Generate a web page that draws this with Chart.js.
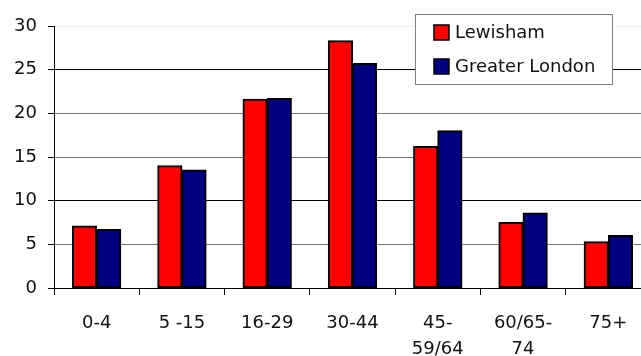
<!DOCTYPE html>
<html>
<head>
<meta charset="utf-8">
<script src="https://cdn.jsdelivr.net/npm/chart.js@4"></script>
<style>
  html, body { margin: 0; padding: 0; background: #fff; overflow: hidden; }
  #wrap { width: 652px; height: 356px; }
</style>
</head>
<body>
<div id="wrap"><canvas id="ageChart" width="652" height="356"></canvas></div>
<script>
// ── Data ──────────────────────────────────────────────────────────────────────
const AGE_BANDS = ["0-4", "5 -15", "16-29", "30-44", ["45-", "59/64"], ["60/65-", "74"], "75+"];
const LEWISHAM = [7.1, 14.0, 21.6, 28.3, 16.2, 7.5, 5.3];
const GREATER_LONDON = [6.7, 13.5, 21.7, 25.7, 18.0, 8.6, 6.0];
const Y_TICKS = [0, 5, 10, 15, 20, 25, 30];

const FONT = { family: "'DejaVu Sans', sans-serif", size: 18 };

// grid lines in the source alternate dark / grey because of scaling
const GRID_COLOURS = { 0: "#000", 5: "#777", 10: "#000", 15: "#777", 20: "#777", 25: "#000", 30: "#eeeeee" };

// Legend box drawn inside the plot, like the spreadsheet original
const boxLegend = {
  id: "boxLegend",
  afterDraw(chart) {
    const ctx = chart.ctx;
    const x = 415, y = 14, w = 197, h = 70;
    ctx.save();
    ctx.fillStyle = "#fff";
    ctx.fillRect(x, y, w, h);
    ctx.strokeStyle = "#808080";
    ctx.lineWidth = 1;
    ctx.strokeRect(x + 0.5, y + 0.5, w, h);
    ctx.font = `${FONT.size}px ${FONT.family}`;
    ctx.textBaseline = "middle";
    chart.data.datasets.forEach((ds, i) => {
      const cy = 32 + i * 34;
      ctx.fillStyle = ds.backgroundColor;
      ctx.fillRect(434, cy - 7, 15, 15);
      ctx.strokeStyle = "#000";
      ctx.lineWidth = 1.5;
      ctx.strokeRect(434, cy - 7, 15, 15);
      ctx.fillStyle = "#111";
      ctx.fillText(ds.label, 455, cy + 1);
    });
    ctx.restore();
  },
};

const barStyle = {
  borderColor: "#000",
  borderWidth: 2,
  borderSkipped: false,
  inflateAmount: 0.5,
  categoryPercentage: 0.567,
  barPercentage: 1.0,
};

new Chart(document.getElementById("ageChart"), {
  type: "bar",
  data: {
    labels: AGE_BANDS,
    datasets: [
      { label: "Lewisham", data: LEWISHAM, backgroundColor: "#ff0000", ...barStyle },
      { label: "Greater London", data: GREATER_LONDON, backgroundColor: "#000080", ...barStyle },
    ],
  },
  options: {
    responsive: false,
    animation: false,
    layout: { padding: { top: 26, right: 1, left: 0, bottom: 0 } },
    plugins: {
      legend: { display: false },
      tooltip: { enabled: false },
    },
    scales: {
      x: {
        offset: true,
        grid: {
          offset: true,
          drawOnChartArea: false,
          color: "#000",
          tickLength: 7,
        },
        border: { color: "#000", width: 1 },
        ticks: {
          color: "#111",
          font: { ...FONT, lineHeight: 1.45 },
          padding: 15,
          maxRotation: 0,
          autoSkip: false,
        },
        afterFit: (s) => { s.height = 68; },
      },
      y: {
        min: 0,
        max: 30,
        afterBuildTicks: (s) => { s.ticks = Y_TICKS.map((v) => ({ value: v })); },
        grid: {
          color: (c) => GRID_COLOURS[c.tick.value] || "#777",
          tickColor: "#000",
          tickLength: 6,
        },
        border: { color: "#000", width: 1 },
        ticks: {
          color: "#111",
          font: FONT,
          padding: 11,
        },
        afterFit: (s) => { s.width = 54; },
      },
    },
  },
  plugins: [boxLegend],
});
</script>
</body>
</html>
